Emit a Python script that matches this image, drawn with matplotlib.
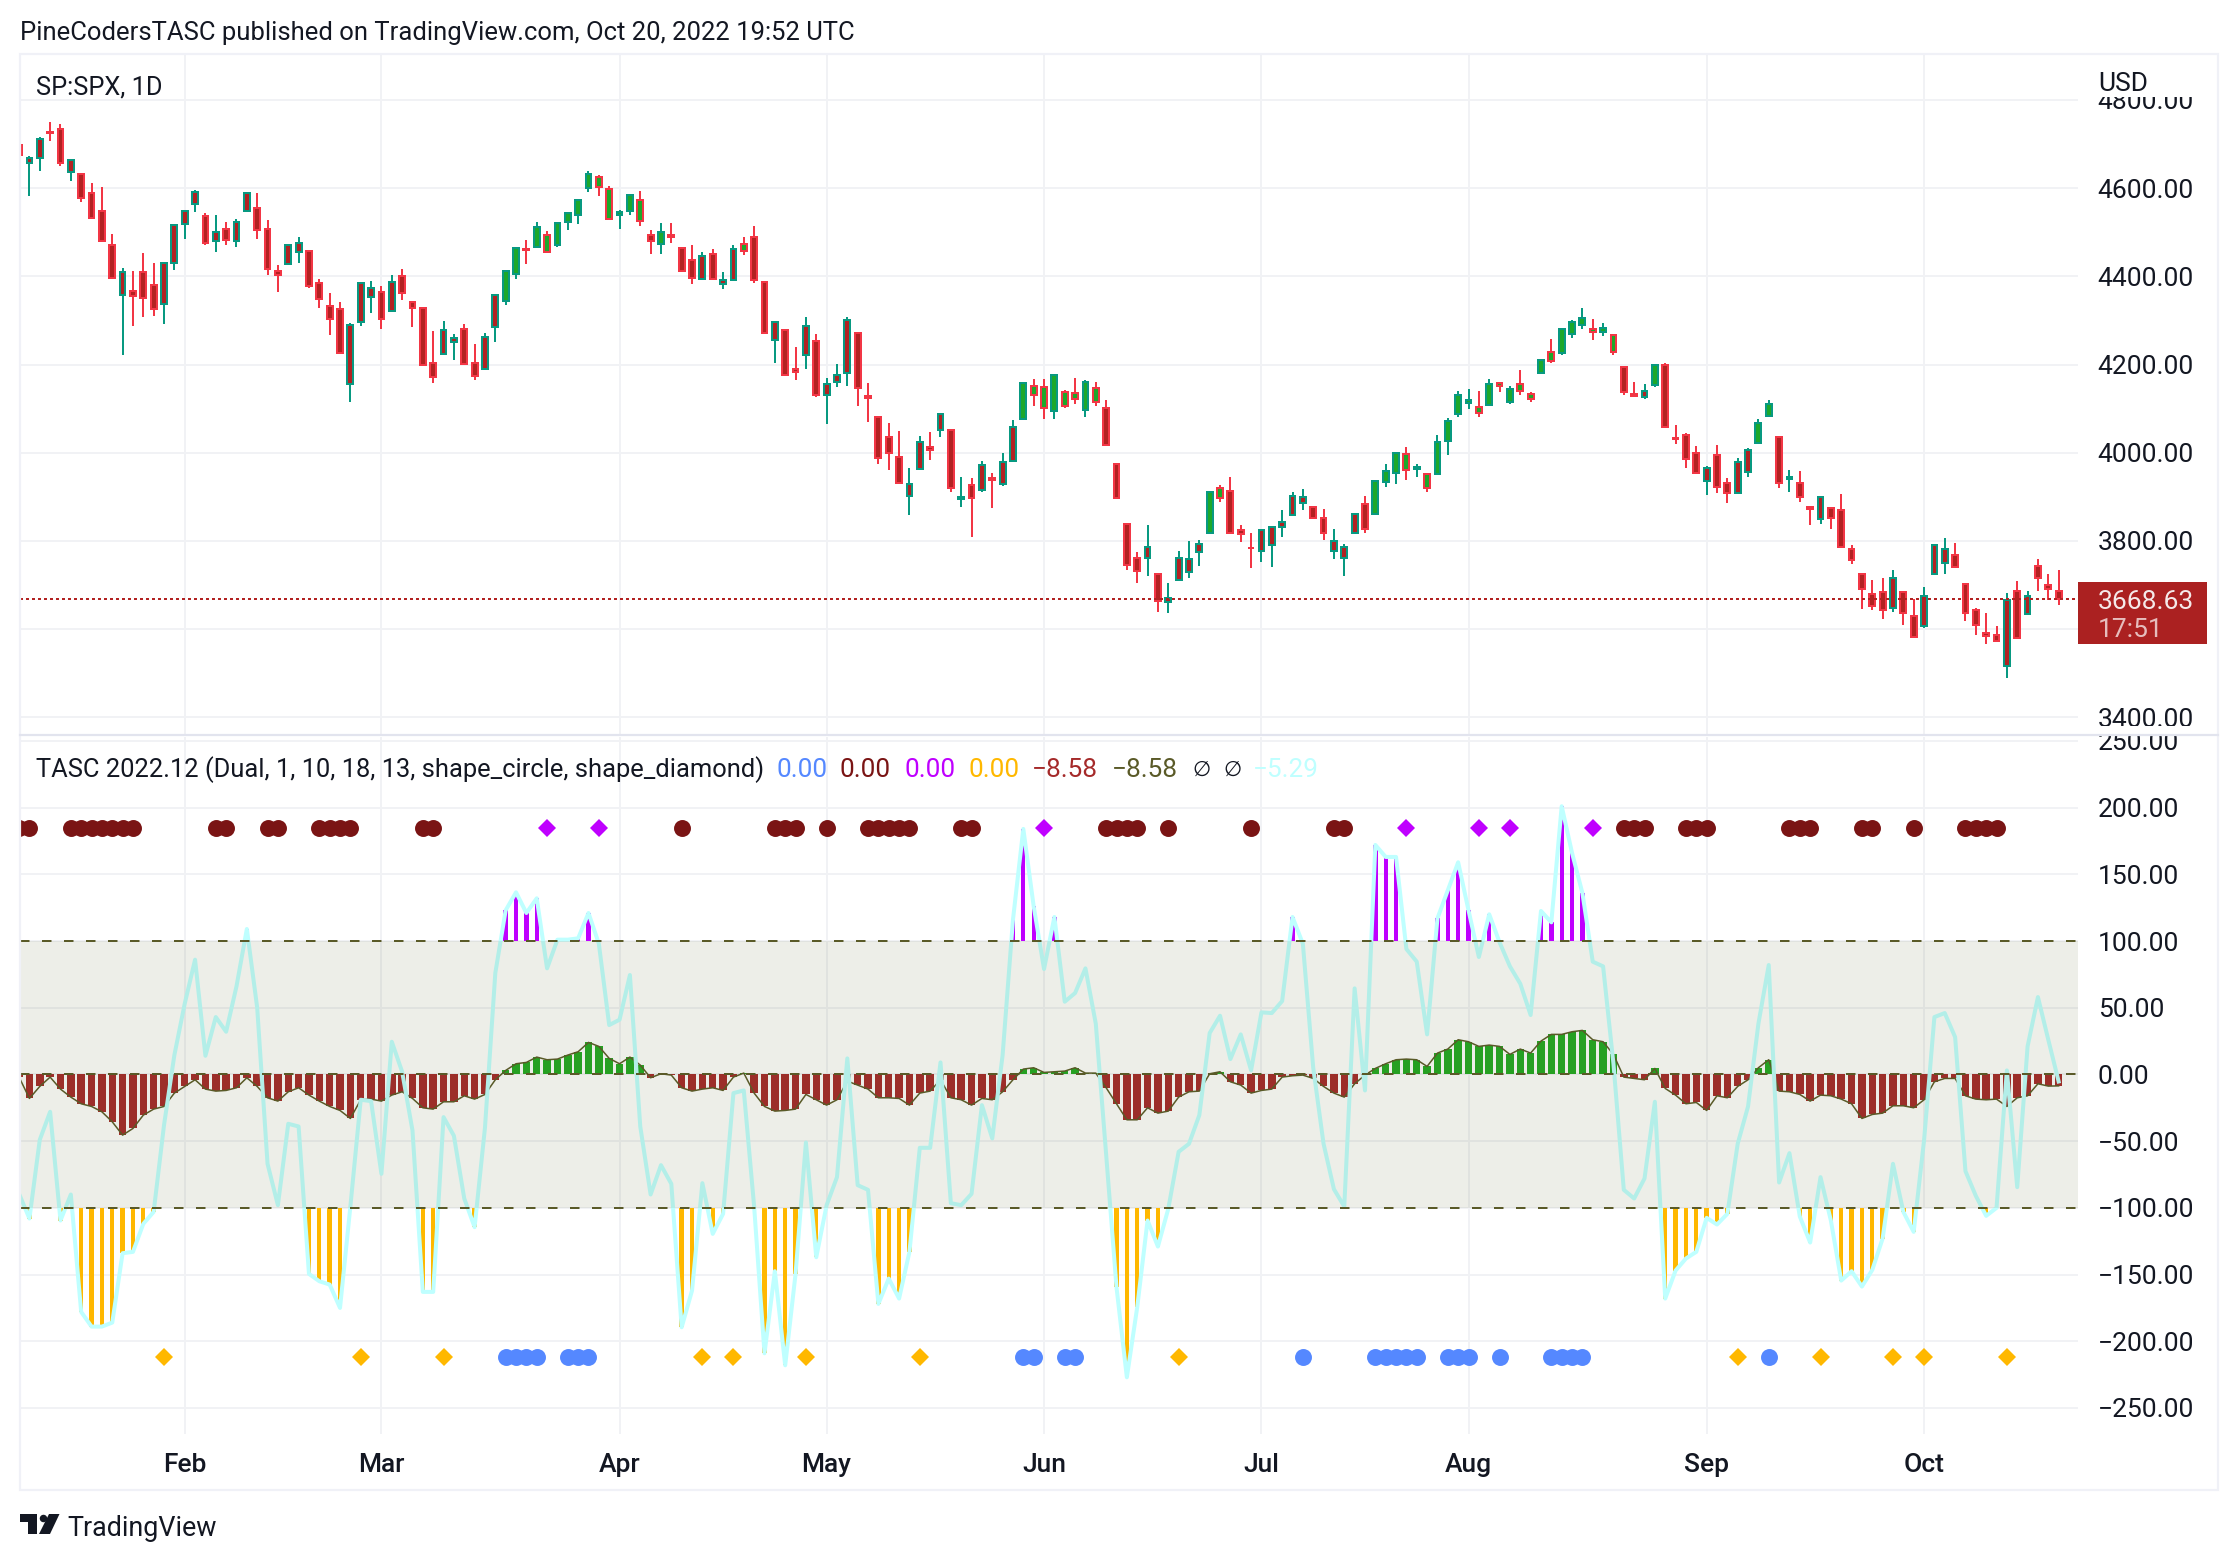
import matplotlib
matplotlib.use("Agg")
import matplotlib.pyplot as plt
from matplotlib.lines import Line2D
from matplotlib.patches import Rectangle, Polygon

W, H = 2238, 1560

opens = [4697,4656,4669,4728,4733,4637,4631,4588,4547,4470,
    4357,4366,4409,4380,4337,4431,4519,4565,4536,4481,
    4507,4479,4547,4554,4507,4411,4429,4454,4457,4384,
    4332,4325,4155,4297,4354,4364,4322,4400,4341,4328,
    4203,4223,4252,4280,4203,4190,4286,4345,4406,4463,
    4467,4493,4470,4522,4540,4601,4624,4599,4540,4547,
    4572,4493,4474,4493,4464,4436,4393,4450,4383,4391,
    4473,4489,4387,4255,4279,4189,4221,4254,4130,4160,
    4180,4272,4129,4081,4035,3990,3903,3962,4013,4051,
    4051,3896,3926,3916,3942,3928,3982,4076,4151,4149,
    4095,4138,4135,4096,4147,4101,3974,3838,3762,3762,
    3726,3661,3712,3730,3774,3819,3919,3913,3824,3785,
    3778,3790,3831,3858,3887,3878,3851,3778,3762,3817,
    3883,3860,3933,3953,3997,3963,3951,3951,4026,4088,
    4112,4104,4108,4157,4114,4156,4133,4180,4229,4226,
    4269,4290,4281,4274,4268,4195,4133,4126,4153,4199,
    4033,4040,3999,3935,3994,3931,3908,3957,4022,4083,
    4035,3940,3931,3878,3849,3874,3869,3781,3724,3680,
    3685,3649,3685,3630,3608,3724,3751,3769,3703,3644,
    3592,3586,3517,3687,3635,3744,3701,3687]
highs = [4697,4673,4715,4749,4745,4666,4631,4611,4602,4495,
    4418,4412,4452,4430,4432,4518,4550,4595,4543,4540,
    4522,4531,4590,4588,4527,4425,4473,4488,4457,4393,
    4362,4341,4294,4384,4389,4377,4402,4416,4341,4328,
    4276,4298,4269,4291,4246,4271,4359,4411,4466,4482,
    4522,4502,4520,4545,4574,4638,4629,4604,4550,4584,
    4593,4504,4520,4520,4464,4470,4454,4461,4410,4470,
    4488,4514,4387,4299,4279,4240,4308,4270,4170,4202,
    4308,4272,4158,4081,4067,4049,3965,4038,4047,4090,
    4051,3944,3942,3981,3953,3999,4074,4158,4167,4167,
    4179,4142,4170,4165,4161,4120,3974,3838,3776,3835,
    3726,3705,3778,3799,3801,3913,3926,3944,3835,3817,
    3828,3831,3869,3910,3917,3878,3872,3828,3794,3862,
    3901,3938,3974,3999,4013,3974,3951,4040,4079,4140,
    4145,4140,4167,4161,4151,4188,4138,4211,4258,4281,
    4302,4327,4304,4293,4268,4195,4161,4156,4202,4204,
    4063,4044,4015,3969,4017,3942,3988,4010,4076,4120,
    4035,3960,3958,3878,3899,3874,3906,3790,3724,3712,
    3715,3735,3685,3669,3696,3790,3806,3796,3703,3649,
    3637,3606,3683,3710,3687,3760,3726,3733]
lows = [4675,4583,4639,4707,4651,4617,4569,4530,4479,4397,
    4222,4288,4307,4310,4292,4415,4485,4546,4472,4454,
    4472,4467,4547,4485,4402,4365,4429,4431,4374,4329,
    4268,4223,4116,4288,4316,4281,4322,4347,4286,4200,
    4159,4223,4211,4202,4164,4190,4252,4336,4393,4427,
    4467,4456,4467,4504,4519,4592,4583,4529,4508,4540,
    4515,4451,4451,4476,4411,4383,4393,4393,4372,4391,
    4448,4384,4269,4203,4176,4164,4189,4126,4064,4148,
    4151,4107,4069,3975,3960,3930,3859,3962,3984,4035,
    3912,3878,3809,3910,3875,3925,3982,4076,4105,4076,
    4076,4101,4110,4082,4107,4017,3898,3734,3705,3721,
    3639,3636,3712,3716,3743,3819,3889,3819,3798,3739,
    3752,3741,3809,3858,3869,3849,3803,3759,3721,3817,
    3818,3860,3923,3928,3939,3944,3912,3951,3994,4080,
    4098,4080,4108,4137,4110,4130,4114,4178,4203,4221,
    4260,4280,4255,4264,4221,4130,4126,4122,4148,4058,
    4019,3966,3953,3905,3908,3887,3908,3946,4022,4083,
    3921,3912,3889,3836,3839,3828,3787,3748,3645,3643,
    3623,3639,3609,3582,3602,3724,3724,3740,3618,3586,
    3566,3573,3489,3577,3635,3686,3667,3655]
closes = [4675,4669,4712,4725,4657,4663,4577,4533,4481,4397,
    4409,4356,4350,4325,4431,4516,4547,4590,4476,4500,
    4483,4522,4588,4504,4417,4402,4470,4475,4379,4348,
    4304,4225,4289,4384,4373,4304,4387,4363,4327,4200,
    4171,4278,4260,4202,4173,4262,4357,4411,4464,4459,
    4511,4456,4520,4543,4574,4631,4602,4529,4545,4584,
    4525,4481,4500,4488,4411,4397,4445,4393,4391,4461,
    4458,4391,4272,4297,4176,4183,4288,4130,4156,4176,
    4302,4146,4123,3989,4000,3932,3928,4024,4007,4088,
    3921,3900,3898,3972,3939,3978,4058,4158,4130,4101,
    4176,4107,4121,4161,4114,4017,3898,3746,3732,3787,
    3664,3671,3762,3758,3794,3910,3898,3819,3816,3783,
    3824,3831,3844,3901,3899,3853,3817,3799,3787,3862,
    3828,3935,3958,3999,3960,3967,3919,4024,4072,4131,
    4120,4090,4156,4151,4145,4139,4122,4211,4208,4281,
    4297,4306,4274,4283,4228,4138,4128,4140,4199,4058,
    4031,3985,3953,3965,3923,3908,3978,4006,4067,4110,
    3931,3944,3899,3872,3899,3853,3787,3756,3692,3653,
    3644,3717,3637,3582,3676,3790,3781,3741,3637,3609,
    3584,3573,3667,3580,3676,3717,3692,3668.63]

# fast line of the indicator
signal = [-89.5,-108,-49,-28,-109.5,-90,-178,-189,-189,-186,
    -134,-133,-112,-103,-38,14.5,53,86,14,43,
    32,66,109,50,-67,-98,-37,-39,-149.5,-155,
    -157.5,-175,-99,-19,-20,-74.5,24.5,2,-42,-163,
    -163,-32,-46,-93,-114.5,-40,76,123,136.5,121,
    132,79.5,101,101,102,121,98,37,41,74.5,
    -39,-90,-68,-82,-189.5,-162,-81.5,-119.5,-104.5,-14,
    -12,-99,-209,-147.5,-218,-149.5,-51,-137,-98,-77,
    12,-83,-86.5,-172,-153,-168,-133,-55,-55,9,
    -96.5,-98,-89.5,-23,-48,14.5,116,184,126,79,
    118,54.5,61,79.5,38,-60,-159.5,-227,-174.5,-109.5,
    -129,-100.75,-58,-52,-30.5,31,44,11.5,30,3,
    46.5,46,55,118,98,5,-52,-86,-99,64.5,
    -12,172,163,163,94,84.5,30,117,138,159,
    123,88,120,99,81,68,44.5,122.5,114,201,
    166,136,84.5,81,8,-86.5,-93,-78,-20.5,-168,
    -147,-138,-133,-107.5,-112.5,-104.5,-52,-24,38,82,
    -81,-59,-106.5,-126,-77,-109.5,-154.5,-147.5,-159,-146.5,
    -123,-67,-103,-118,-49.5,43,46,28,-72.5,-91,
    -106,-100,3,-84.5,21,58,26,-5.29]

# slow histogram, also decides the body fill of the candles
hist = [-2,-18,-9,-2,-11,-17,-22,-24,-28,-35.5,
    -45.5,-40.5,-30.5,-26,-24,-14,-9,-4,-11,-12.5,
    -12,-10,-2.5,-9,-17.5,-20,-13,-10,-15.5,-20,
    -24,-27,-33,-19,-18.5,-20,-15.5,-13,-18,-25,
    -26,-20.5,-20.5,-16,-18.5,-15,-4,3,8,9,
    13,11,11.5,14.5,17,24,21,12,8,13,
    7,-2.5,0.5,-0.5,-10,-12.5,-11,-10,-12,-2,
    1,-14,-24,-27.5,-27,-26,-15,-19,-23,-19,
    -5,-8,-11,-17.5,-17.5,-18,-23,-14,-12.5,-4,
    -17.5,-19,-23,-18,-19,-13,-4,4,5,1.5,
    2,2.5,5,1,1,-10,-22,-34,-34,-25,
    -29,-27.5,-17,-13,-12.5,0.5,2,-5.5,-8,-14,
    -12,-11,-2,-1,-0.5,-3,-9,-14,-17,-7,
    -0.5,4.5,8,11,11.5,11,6,16,19,26,
    24.5,21,22,21,15,19,16,25,30,30,
    32,33,26,24.5,15,-2,-3,-4,4.5,-10.5,
    -15.5,-22,-21,-27,-16,-17.5,-9,-4,5,11,
    -12.5,-13,-15,-20,-15.5,-16,-18.5,-22,-33,-30,
    -29,-23.5,-23.5,-25,-19,-5.5,-3,-3,-16,-18.5,
    -19,-18.5,-24,-17.5,-16,-7,-8.75,-8.58]

sell_dots = [0,1,5,6,7,8,9,10,11,19,20,24,25,29,30,31,32,39,40,64,73,74,75,78,
    82,83,84,85,86,91,92,105,106,107,108,111,119,127,128,155,156,157,
    161,162,163,171,172,173,178,179,183,188,189,190,191]
sell_diamonds = [51,56,99,134,141,144,152]
buy_dots = [47,48,49,50,53,54,55,97,98,101,102,124,131,132,133,134,135,
    138,139,140,143,148,149,150,151,169]
buy_diamonds = [14,33,41,66,69,76,87,112,166,174,181,184,192]
top_level = 185
bottom_level = -212

month_bars = [16,35,58,78,99,120,140,163,184]
month_labels = ["Feb","Mar","Apr","May","Jun","Jul","Aug","Sep","Oct"]
price_ticks = [3400,3600,3800,4000,4200,4400,4600,4800]
price_labels = ["3400.00","","3800.00","4000.00","4200.00","4400.00","4600.00","4800.00"]
osc_ticks = [-250,-200,-150,-100,-50,0,50,100,150,200,250]
last_price = 3668.63

UP = "#089981"
DOWN = "#F23645"
FILL_UP = "#1CA82A"
FILL_DOWN = "#B22222"
OLIVE = "#5A5A28"
TEXT = "#131722"
GRID = "#F1F2F5"
BORDER = "#F0F1F7"
BLUE = "#5588FF"
MAROON = "#7A1414"
MAGENTA = "#BF00FF"
ORANGE = "#FFB800"
CYAN = "#BFFFFF"
BROWN = "#A52A2A"

plt.rcParams["font.family"] = ["Roboto", "DejaVu Sans"]
FS = 19
LEGEND_FS = 18.3


def fx(x):
    return x / W


def fy(y):
    return 1 - y / H


def pane(left, top, right, bottom):
    ax = fig.add_axes([fx(left), fy(bottom), fx(right - left), (bottom - top) / H])
    for s in ax.spines.values():
        s.set_visible(False)
    ax.set_xlim(0.09, 198.87)
    ax.set_xticks(month_bars)
    ax.yaxis.tick_right()
    ax.tick_params(axis="both", length=0, labelsize=FS, labelcolor=TEXT)
    ax.tick_params(axis="y", pad=14.2)
    ax.grid(True, color=GRID, linewidth=1.44, zorder=0)
    ax.set_axisbelow(True)
    return ax


def label(x, y, s, color=TEXT, size=LEGEND_FS, **kw):
    fig.text(fx(x), fy(y), s, color=color, fontsize=size, va="center", **kw)


fig = plt.figure(figsize=(W / 100, H / 100), dpi=100, facecolor="white")

# price pane
ax1 = pane(20, 54, 2078, 735)
ax1.set_ylim(3360, 4904)
ax1.set_yticks(price_ticks)
ax1.set_yticklabels(price_labels)
ax1.set_xticklabels([])
bars = range(len(closes))
for i in bars:
    edge = UP if closes[i] >= opens[i] else DOWN
    face = FILL_UP if hist[i] > 0 else FILL_DOWN
    ax1.vlines(i, lows[i], highs[i], color=edge, linewidth=1.44, zorder=2)
    ax1.bar(i, abs(closes[i] - opens[i]), bottom=min(opens[i], closes[i]), width=0.56,
            facecolor=face, edgecolor=edge, linewidth=1.44, zorder=3)
ax1.axhline(last_price, color=FILL_DOWN, linewidth=1.44, linestyle=(0, (1.5, 1.5)), zorder=4)

# indicator pane
ax2 = pane(20, 737, 2078, 1434)
ax2.set_ylim(-269.5, 252.9)
ax2.set_yticks(osc_ticks)
ax2.set_yticklabels([("%.2f" % v).replace("-", "\u2212") for v in osc_ticks])
ax2.set_xticklabels(month_labels, fontweight="medium")
ax2.tick_params(axis="x", pad=14)

hist_colors = ["#22A822" if v > 0 else BROWN for v in hist]
ax2.bar(bars, hist, width=0.72, color=hist_colors, zorder=2)
for i in bars:
    if signal[i] > 100:
        ax2.bar(i, signal[i] - 100, bottom=100, width=0.42, color=MAGENTA, zorder=2)
    elif signal[i] < -100:
        ax2.bar(i, signal[i] + 100, bottom=-100, width=0.42, color=ORANGE, zorder=2)
ax2.plot(bars, hist, color=OLIVE, linewidth=1.1, zorder=3)
ax2.plot(bars, signal, color=CYAN, linewidth=2.9, zorder=4)
ax2.axhspan(-100, 100, color="#525B25", alpha=0.1, linewidth=0, zorder=5)
for lvl in (-100, 0, 100):
    ax2.axhline(lvl, color=OLIVE, linewidth=1.44, linestyle=(0, (4.75, 6.25)), zorder=6)
ax2.plot(sell_dots, [top_level] * len(sell_dots), "o", color=MAROON, ms=12.2, mew=0, zorder=7)
ax2.plot(sell_diamonds, [top_level] * len(sell_diamonds), "D", color=MAGENTA, ms=9.2, mew=0, zorder=7)
ax2.plot(buy_dots, [bottom_level] * len(buy_dots), "o", color=BLUE, ms=12.2, mew=0, zorder=7)
ax2.plot(buy_diamonds, [bottom_level] * len(buy_diamonds), "D", color=ORANGE, ms=9.2, mew=0, zorder=7)

# chart frame, masks on the price scale
fig.add_artist(Rectangle((fx(2080), fy(97)), fx(136), 41 / H, color="white", lw=0, zorder=1))
fig.add_artist(Rectangle((fx(2080), fy(734)), fx(136), 8 / H, color="white", lw=0, zorder=1))
fig.add_artist(Rectangle((fx(20), fy(1490)), fx(2198), 1436 / H, fill=False,
                         edgecolor=BORDER, lw=1.6, zorder=2))
fig.add_artist(Line2D([fx(20), fx(2218)], [fy(735), fy(735)], color="#E2E4EE", lw=1.6, zorder=2))
fig.add_artist(Rectangle((fx(2078), fy(644)), fx(129), 62 / H, color="#AB2121", lw=0, zorder=1))

# texts
label(20, 33, "PineCodersTASC published on TradingView.com, Oct 20, 2022 19:52 UTC", size=18.45)
label(36, 88, "SP:SPX, 1D")
label(2098, 84, "USD", size=FS)
label(2098, 602, "3668.63", color="#F5E9E9", size=FS)
label(2098, 630, "17:51", color="#E6BDBD", size=FS)
label(36, 770, "TASC 2022.12 (Dual, 1, 10, 18, 13, shape_circle, shape_diamond)", size=18.35)
values = [(777, "0.00", BLUE), (840, "0.00", MAROON), (905, "0.00", MAGENTA), (969, "0.00", ORANGE),
          (1032, "\u22128.58", BROWN), (1112, "\u22128.58", OLIVE), (1253, "\u22125.29", CYAN)]
for vx, vs, vc in values:
    label(vx, 770, vs, color=vc, size=18.8)
label(1192, 770, "\u2205", size=15)
label(1223, 770, "\u2205", size=15)

# TradingView logo
LOGO = "#131722"
fig.add_artist(Polygon([(fx(20), fy(1514)), (fx(37), fy(1514)), (fx(37), fy(1534)), (fx(28), fy(1534)),
                        (fx(28), fy(1522)), (fx(20), fy(1522))], closed=True, color=LOGO, lw=0, zorder=2))
fig.add_artist(Polygon([(fx(49), fy(1514)), (fx(59.5), fy(1514)), (fx(50), fy(1534)), (fx(39), fy(1534))],
                       closed=True, color=LOGO, lw=0, zorder=2))
fig.add_artist(Line2D([fx(42.5)], [fy(1518)], marker="o", ms=5.4, mew=0, color=LOGO, zorder=2))
label(67, 1528, "TradingView", size=19.4)

fig.savefig("out.png", dpi=100, facecolor="white")
